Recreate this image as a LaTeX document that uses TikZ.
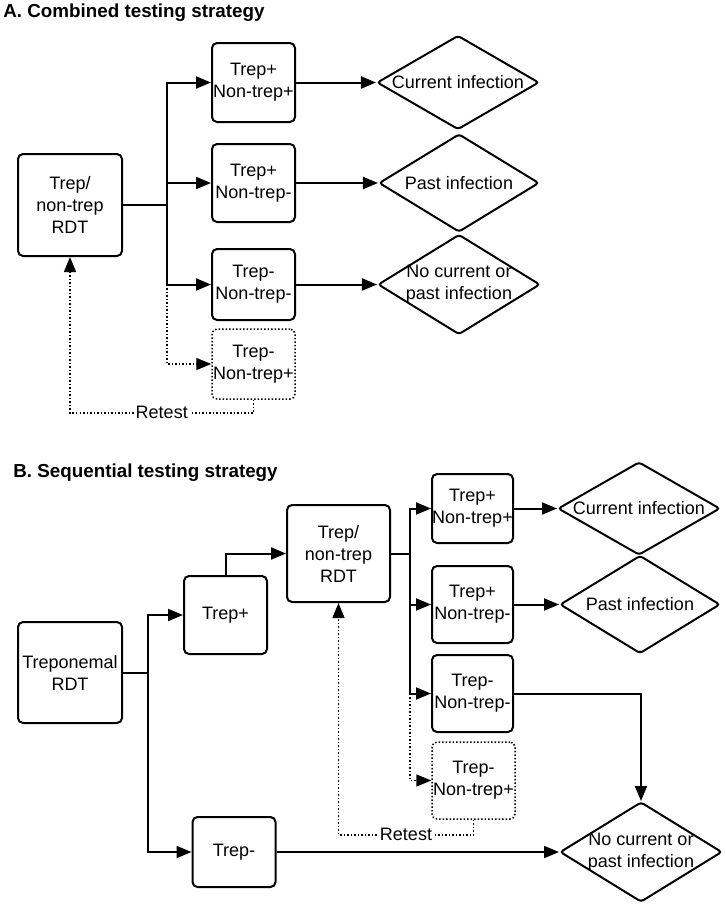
\documentclass[tikz,border=0pt]{standalone}
\usepackage{fontspec}
\setmainfont{Liberation Sans}
\usetikzlibrary{positioning,arrows.meta,shapes.geometric}
\newcommand{\zw}[1]{\makebox[0pt]{#1}}
\tikzset{
  box/.style    ={draw, line width=1pt, rounded corners=2.5pt, inner sep=0pt, align=center},
  dbox/.style   ={draw, densely dotted, line width=0.75pt, rounded corners=2.5pt, inner sep=0pt, align=center},
  outcome/.style={draw, diamond, line width=1pt, rounded corners=1.5pt, inner sep=0pt, align=center},
  title/.style  ={anchor=base west, inner sep=0pt, font=\fontsize{9.4}{11}\selectfont\bfseries},
  line/.style   ={line width=1pt},
  arrow/.style  ={-{Triangle[length=7.5pt,width=6pt]}, line width=1pt},
  darrow/.style ={-{Triangle[length=7.5pt,width=6pt]}, densely dotted, line width=0.75pt}
}
\begin{document}
\begin{tikzpicture}[x=0.5pt, y=-0.5pt, font=\fontsize{9}{11}\selectfont]
    \useasboundingbox (0,0) rectangle (725,906);
    % A: combined strategy
    \node[title] (tA) at (3,17) {A. Combined testing strategy};
    \node[box, minimum width=52pt, minimum height=51pt] (rdtA) at (70,205) {Trep/\\non-trep\\RDT};
    \node[box, minimum width=41.5pt, minimum height=39.5pt] (app) at (253.5,82.5) {Trep+\\Non-trep+};
    \node[box, minimum width=41.5pt, minimum height=39pt] (apn) at (253.5,183) {Trep+\\Non-trep-};
    \node[box, minimum width=41.5pt, minimum height=35.5pt] (ann) at (253.5,284.5) {Trep-\\Non-trep-};
    \node[dbox, minimum width=41.5pt, minimum height=35pt] (anp) at (253.5,364) {Trep-\\Non-trep+};
    \node[outcome, minimum width=81pt, minimum height=47pt] (curA) at (458,82.5) {\zw{Current infection}};
    \node[outcome, minimum width=80pt, minimum height=49pt] (pastA) at (459,183) {\zw{Past infection}};
    \node[outcome, minimum width=81pt, minimum height=50pt] (noneA) at (459,284.5) {\zw{No current or}\\\zw{past infection}};
    % branches
    \coordinate (brA) at (167,205);
    \draw[line] (rdtA.east) -- (brA);
    \draw[arrow] (brA) |- (app.west);
    \draw[arrow] (brA) |- (apn.west);
    \draw[arrow] (brA) |- (ann.west);
    \draw[darrow] (brA |- ann.west) |- (anp.west);
    \draw[arrow] (app) -- (curA);
    \draw[arrow] (apn) -- (pastA);
    \draw[arrow] (ann) -- (noneA);
    % retest
    \draw[darrow] (anp.south) -- ++(0,13) -| node[pos=0.25, fill=white, inner sep=1pt] (retA) {Retest} (rdtA.south);

    % B: sequential strategy
    \node[title] (tB) at (13,477) {B. Sequential testing strategy};
    \node[box, minimum width=52pt, minimum height=50.5pt] (trepB) at (70,672.5) {Treponemal\\RDT};
    \node[box, minimum width=41.5pt, minimum height=39pt] (tpos) at (225.5,615) {Trep+};
    \node[box, minimum width=41.5pt, minimum height=35pt] (tneg) at (234,852) {Trep-};
    \node[box, minimum width=51.5pt, minimum height=48.5pt] (rdtB) at (338.5,553.5) {Trep/\\non-trep\\RDT};
    \node[box, minimum width=40.5pt, minimum height=34.5pt] (bpp) at (472.5,508.5) {Trep+\\Non-trep+};
    \node[box, minimum width=40.5pt, minimum height=38.5pt] (bpn) at (472.5,604.5) {Trep+\\Non-trep-};
    \node[box, minimum width=40.5pt, minimum height=38.5pt] (bnn) at (472.5,693.5) {Trep-\\Non-trep-};
    \node[dbox, minimum width=41.5pt, minimum height=38.5pt] (bnp) at (473.5,780.5) {Trep-\\Non-trep+};
    \node[outcome, minimum width=81pt, minimum height=46.5pt] (curB) at (639,508.5) {\zw{Current infection}};
    \node[outcome, minimum width=80pt, minimum height=49pt] (pastB) at (640,604.5) {\zw{Past infection}};
    \node[outcome, minimum width=81pt, minimum height=50pt] (noneB) at (641,852) {\zw{No current or}\\\zw{past infection}};
    % first test
    \coordinate (brB) at (148,672.5);
    \draw[line] (trepB.east) -- (brB);
    \draw[arrow] (brB) |- (tpos.west);
    \draw[arrow] (brB) |- (tneg.west);
    \draw[arrow] (tpos.north) |- (rdtB.west);
    \draw[arrow] (tneg) -- (noneB);
    % second test
    \coordinate (brC) at (410,553.5);
    \draw[line] (rdtB.east) -- (brC);
    \draw[arrow] (brC) |- (bpp.west);
    \draw[arrow] (brC) |- (bpn.west);
    \draw[arrow] (brC) |- (bnn.west);
    \draw[darrow] (brC |- bnn.west) |- (bnp.west);
    \draw[arrow] (bpp) -- (curB);
    \draw[arrow] (bpn) -- (pastB);
    \draw[arrow] (bnn.east) -| (noneB.north);
    % retest
    \draw[darrow] (bnp.south) -- ++(0,15) -| node[pos=0.25, fill=white, inner sep=1pt] (retB) {Retest} (rdtB.south);
\end{tikzpicture}
\end{document}
